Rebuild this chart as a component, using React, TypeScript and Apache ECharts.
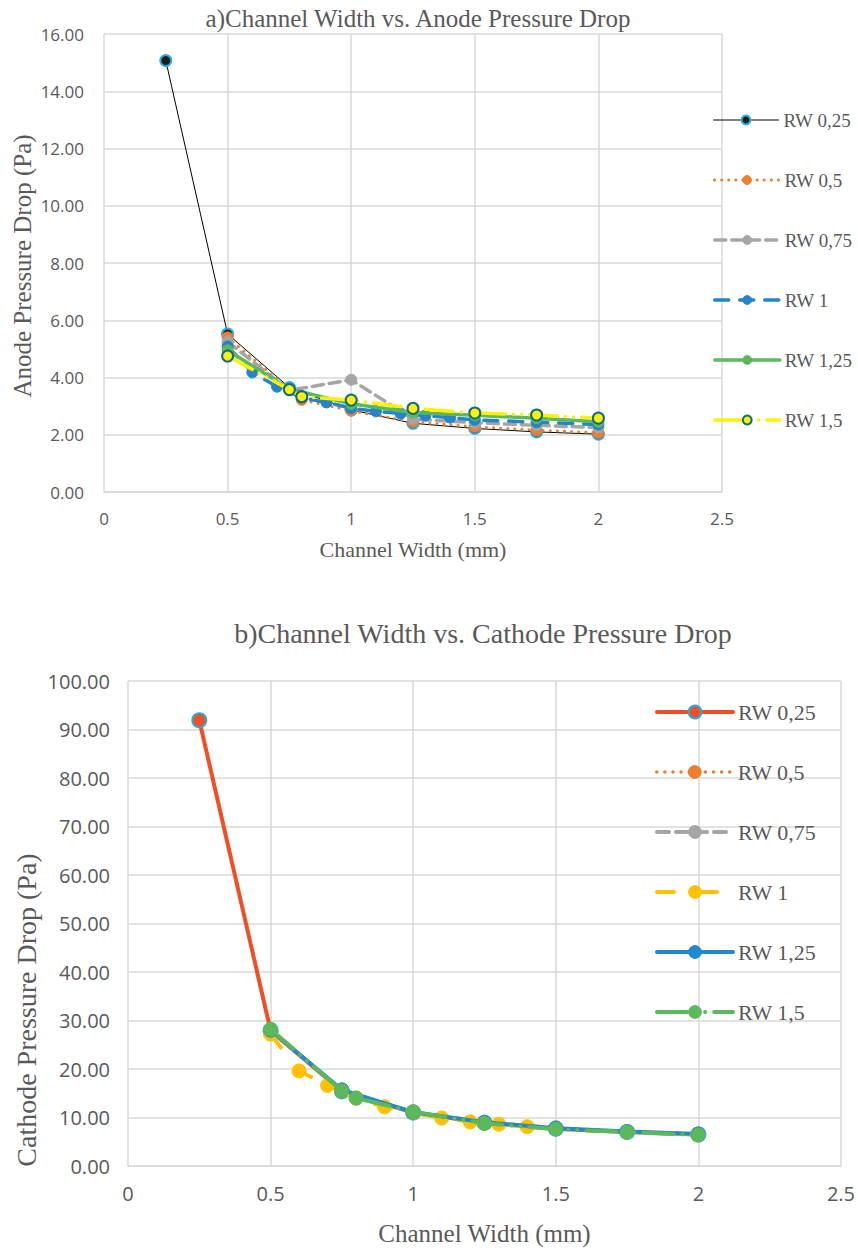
import React, { useEffect, useRef } from "react";
import * as echarts from "echarts";

// ---------- data ----------
const seriesNames = ["RW 0,25", "RW 0,5", "RW 0,75", "RW 1", "RW 1,25", "RW 1,5"];

// a) Anode pressure drop (Pa) vs channel width (mm)
const anodeRW025 = [[0.25, 15.07], [0.5, 5.52], [0.75, 3.65], [1, 2.87], [1.25, 2.4], [1.5, 2.22], [1.75, 2.1], [2, 2.02]];
const anodeRW05 = [[0.5, 5.4], [0.75, 3.58], [0.8, 3.22], [1, 2.84], [1.25, 2.45], [1.5, 2.28], [1.75, 2.16], [2, 2.07]];
const anodeRW075 = [[0.5, 5.25], [0.75, 3.55], [1, 3.92], [1.25, 2.55], [1.5, 2.42], [1.75, 2.33], [2, 2.25]];
const anodeRW1 = [[0.5, 5.08], [0.6, 4.18], [0.7, 3.68], [0.8, 3.3], [0.9, 3.13], [1, 2.93], [1.1, 2.82], [1.2, 2.74], [1.3, 2.67], [1.4, 2.6], [1.5, 2.52], [1.75, 2.44], [2, 2.36]];
const anodeRW125 = [[0.5, 4.95], [0.75, 3.6], [1, 3.08], [1.25, 2.78], [1.5, 2.68], [1.75, 2.58], [2, 2.45]];
const anodeRW15 = [[0.5, 4.75], [0.75, 3.58], [0.8, 3.33], [1, 3.21], [1.25, 2.92], [1.5, 2.76], [1.75, 2.69], [2, 2.58]];

// b) Cathode pressure drop (Pa) vs channel width (mm)
const cathodeRW025 = [[0.25, 91.9], [0.5, 27.9], [0.75, 15.4], [1, 11.0], [1.25, 8.9], [1.5, 7.7], [1.75, 7.0], [2, 6.5]];
const cathodeRW05 = [[0.5, 27.8], [0.75, 15.5], [1, 11.0], [1.25, 8.9], [1.5, 7.7], [1.75, 7.0], [2, 6.5]];
const cathodeRW075 = [[0.5, 28.0], [0.75, 15.6], [1, 11.1], [1.25, 9.0], [1.5, 7.8], [1.75, 7.0], [2, 6.5]];
const cathodeRW1 = [[0.5, 27.2], [0.6, 19.6], [0.7, 16.6], [0.8, 14.0], [0.9, 12.2], [1, 11.0], [1.1, 9.9], [1.2, 9.1], [1.3, 8.6], [1.4, 8.1], [1.5, 7.7], [1.75, 7.0], [2, 6.5]];
const cathodeRW125 = [[0.5, 28.0], [0.75, 15.7], [1, 11.1], [1.25, 9.0], [1.5, 7.8], [1.75, 7.1], [2, 6.6]];
const cathodeRW15 = [[0.5, 28.2], [0.75, 15.5], [0.8, 14.0], [1, 11.2], [1.25, 8.8], [1.5, 7.6], [1.75, 7.0], [2, 6.4]];

const xTicks = { min: 0, max: 2.5, interval: 0.5 };
const anodeTicks = { min: 0, max: 16, interval: 2 };
const cathodeTicks = { min: 0, max: 100, interval: 10 };

// ---------- styling ----------
const SERIF = "'Liberation Serif', 'Times New Roman', serif";
const SANS = "'Open Sans', 'Noto Sans', sans-serif";
const GRAY = "#595959";
const GRIDC = "#d9d9d9";
const CYAN = "#29abe2";

type Sty = {
  color: string;
  type: any;
  width: number;
  fill: string;
  border: string;
  borderWidth: number;
};

const anodeStyles: Sty[] = [
  { color: "#000000", type: "solid", width: 1, fill: "#1c1c1c", border: CYAN, borderWidth: 2 },
  { color: "#ed7d31", type: [0.1, 7], width: 3, fill: "#ed7d31", border: "#ed7d31", borderWidth: 1 },
  { color: "#a5a5a5", type: [11, 6], width: 3.5, fill: "#a5a5a5", border: "#a5a5a5", borderWidth: 1 },
  { color: "#2384c9", type: [14, 11], width: 3.5, fill: "#2384c9", border: "#2384c9", borderWidth: 1 },
  { color: "#5cb85c", type: "solid", width: 3.5, fill: "#5cb85c", border: "#5cb85c", borderWidth: 1 },
  { color: "#fff200", type: [28, 8, 0.1, 8, 0.1, 8], width: 3.5, fill: "#fff200", border: "#0e6a8c", borderWidth: 2 },
];

const cathodeStyles: Sty[] = [
  { color: "#f04e23", type: "solid", width: 4, fill: "#f04e23", border: CYAN, borderWidth: 2 },
  { color: "#ed7d31", type: [0.1, 8], width: 3.5, fill: "#ed7d31", border: "#ed7d31", borderWidth: 1 },
  { color: "#a5a5a5", type: [12, 7], width: 4, fill: "#a5a5a5", border: "#a5a5a5", borderWidth: 1 },
  { color: "#ffc000", type: [17, 26], width: 4, fill: "#ffc000", border: "#ffc000", borderWidth: 1 },
  { color: "#1f88d0", type: "solid", width: 4, fill: "#1f88d0", border: "#1f88d0", borderWidth: 1 },
  { color: "#5cb85c", type: [30, 9, 0.1, 9, 0.1, 9], width: 4, fill: "#5cb85c", border: "#5cb85c", borderWidth: 1 },
];

function buildSeries(names: string[], datas: number[][][], styles: Sty[], symbolSize: number) {
  return names.map((name, i) => {
    const s = styles[i];
    return {
      name,
      type: "line",
      data: datas[i],
      symbol: "circle",
      symbolSize,
      showSymbol: true,
      lineStyle: { color: s.color, width: s.width, type: s.type, cap: "round", join: "round" },
      itemStyle: { color: s.fill, borderColor: s.border, borderWidth: s.borderWidth },
      emphasis: { disabled: true },
      z: 2 + i,
    };
  });
}

function buildLegends(names: string[], styles: Sty[], centers: number[], left: number, itemWidth: number, itemHeight: number, fontSize: number) {
  const lh = Math.max(itemHeight, fontSize);
  return names.map((n, i) => ({
    data: [n],
    orient: "horizontal",
    left,
    top: centers[i] - lh / 2,
    padding: 0,
    itemWidth,
    itemHeight,
    itemGap: 0,
    selectedMode: false,
    lineStyle: { color: styles[i].color, width: styles[i].width, type: styles[i].type, cap: "round" },
    itemStyle: { color: styles[i].fill, borderColor: styles[i].border, borderWidth: styles[i].borderWidth },
    textStyle: { fontFamily: SERIF, fontSize, color: GRAY, lineHeight: lh },
  }));
}

function axisCommon(labelSize: number, margin: number) {
  return {
    type: "value",
    axisTick: { show: false },
    splitLine: { show: true, lineStyle: { color: GRIDC, width: 1.5 } },
    axisLabel: { color: GRAY, fontFamily: SANS, fontSize: labelSize, margin },
  };
}

const anodeOption = {
  animation: false,
  graphic: [
    {
      type: "text",
      x: 418,
      y: 18,
      style: { text: "a)Channel Width vs. Anode Pressure Drop", font: `25px ${SERIF}`, fill: GRAY, align: "center", verticalAlign: "middle" },
    },
    {
      type: "text",
      x: 22,
      y: 266,
      rotation: Math.PI / 2,
      style: { text: "Anode Pressure Drop (Pa)", font: `25px ${SERIF}`, fill: GRAY, align: "center", verticalAlign: "middle" },
    },
  ],
  legend: buildLegends(seriesNames, anodeStyles, [120, 180, 240, 300, 360, 420], 713, 65, 11, 19),
  grid: { left: 104, top: 34, width: 618, height: 458, containLabel: false },
  xAxis: {
    ...axisCommon(17, 18),
    ...xTicks,
    axisLine: { show: true, lineStyle: { color: GRIDC, width: 1.5 } },
    name: "Channel Width (mm)",
    nameLocation: "middle",
    nameGap: 46,
    nameTextStyle: { fontFamily: SERIF, fontSize: 22, color: GRAY },
  },
  yAxis: {
    ...axisCommon(17, 20),
    ...anodeTicks,
    axisLine: { show: false },
    axisLabel: { color: GRAY, fontFamily: SANS, fontSize: 17, margin: 20, formatter: (v: number) => v.toFixed(2) },
  },
  series: buildSeries(seriesNames, [anodeRW025, anodeRW05, anodeRW075, anodeRW1, anodeRW125, anodeRW15], anodeStyles, 11),
};

const cathodeOption = {
  animation: false,
  graphic: [
    {
      type: "text",
      x: 483,
      y: 33,
      style: { text: "b)Channel Width vs. Cathode Pressure Drop", font: `28px ${SERIF}`, fill: GRAY, align: "center", verticalAlign: "middle" },
    },
    {
      type: "text",
      x: 26,
      y: 410,
      rotation: Math.PI / 2,
      style: { text: "Cathode Pressure Drop (Pa)", font: `28px ${SERIF}`, fill: GRAY, align: "center", verticalAlign: "middle" },
    },
  ],
  legend: buildLegends(seriesNames, cathodeStyles, [112, 172, 232, 292, 352, 412], 655, 76, 16, 22),
  grid: { left: 128, top: 81, width: 715, height: 487, containLabel: false },
  xAxis: {
    ...axisCommon(20, 17),
    ...xTicks,
    axisLine: { show: true, lineStyle: { color: GRIDC, width: 1.5 } },
    name: "Channel Width (mm)",
    nameLocation: "middle",
    nameGap: 55,
    nameTextStyle: { fontFamily: SERIF, fontSize: 25, color: GRAY },
  },
  yAxis: {
    ...axisCommon(20, 18),
    ...cathodeTicks,
    axisLine: { show: false },
    axisLabel: { color: GRAY, fontFamily: SANS, fontSize: 20, margin: 18, formatter: (v: number) => v.toFixed(2) },
  },
  series: buildSeries(seriesNames, [cathodeRW025, cathodeRW05, cathodeRW075, cathodeRW1, cathodeRW125, cathodeRW15], cathodeStyles, 14),
};

function Chart({ option, top, height }: { option: any; top: number; height: number }) {
  const ref = useRef<HTMLDivElement>(null);
  useEffect(() => {
    if (!ref.current) return;
    const chart = echarts.init(ref.current, undefined, { renderer: "svg" });
    chart.setOption(option);
    return () => chart.dispose();
  }, [option]);
  return <div ref={ref} style={{ position: "absolute", left: 0, top, width: 858, height }} />;
}

export default function App() {
  return (
    <div style={{ position: "absolute", left: 0, top: 0, width: 858, height: 1251, background: "#ffffff", overflow: "hidden" }}>
      <Chart option={anodeOption} top={0} height={600} />
      <Chart option={cathodeOption} top={600} height={651} />
    </div>
  );
}
